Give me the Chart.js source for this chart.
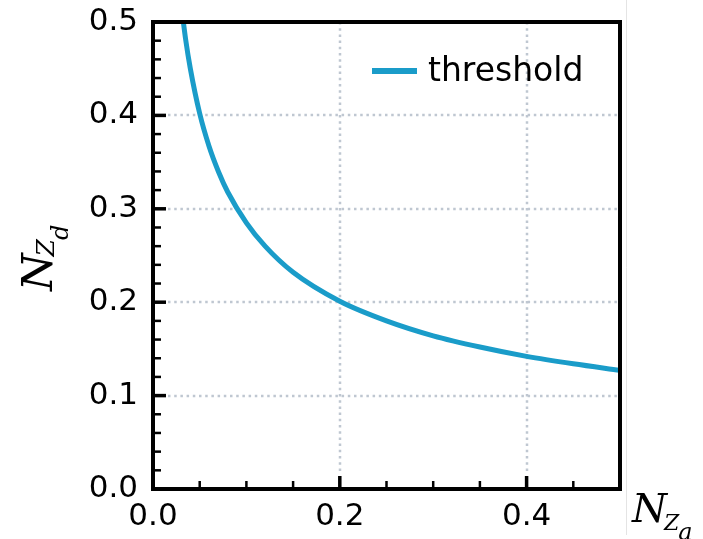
<!DOCTYPE html>
<html>
<head>
<meta charset="utf-8">
<script src="https://cdn.jsdelivr.net/npm/chart.js@4/dist/chart.umd.min.js"></script>
<style>
html, body { margin: 0; padding: 0; background: #fff; }
canvas { display: block; }
</style>
</head>
<body>
<canvas id="thresholdChart" width="703" height="539"></canvas>
<script>
// N_Za vs N_Zd threshold curve

const naValues = [0.030, 0.035, 0.040, 0.050, 0.060, 0.070, 0.080, 0.100, 0.120, 0.150, 0.200, 0.250, 0.300, 0.350, 0.400, 0.450, 0.500];
const ndValues = [0.520, 0.481, 0.450, 0.402, 0.367, 0.340, 0.318, 0.285, 0.260, 0.232, 0.201, 0.180, 0.164, 0.152, 0.142, 0.134, 0.127];
const xMajorTicks = [0, 0.2, 0.4];
const xMinorTicks = [0.05, 0.1, 0.15, 0.25, 0.3, 0.35, 0.45];
const yMajorTicks = [0, 0.1, 0.2, 0.3, 0.4, 0.5];
const yMinorTicks = [0.02, 0.04, 0.06, 0.08, 0.12, 0.14, 0.16, 0.18, 0.22, 0.24, 0.26, 0.28,
                     0.32, 0.34, 0.36, 0.38, 0.42, 0.44, 0.46, 0.48];
const xGridLines = [0.2, 0.4];
const yGridLines = [0.1, 0.2, 0.3, 0.4];
const seriesLabel = 'threshold';

const LINE_COLOR = '#1a9cc9';
const GRID_COLOR = '#bfc7d1';
const TICK_FONT = 'DejaVu Sans';
const MATH_FONT = '"DejaVu Serif", "Liberation Serif", serif';

const points = naValues.map((v, i) => ({ x: v, y: ndValues[i] }));

const axesPlugin = {
    id: 'axesDecor',
    beforeDatasetsDraw(chart) {
        const { ctx, chartArea: a, scales: { x, y } } = chart;
        ctx.save();
        ctx.strokeStyle = GRID_COLOR;
        ctx.lineWidth = 2.5;
        ctx.setLineDash([2.5, 3.7]);
        yGridLines.forEach(v => {
            const py = Math.round(y.getPixelForValue(v));
            ctx.beginPath();
            ctx.moveTo(a.left + 15, py);
            ctx.lineTo(a.right, py);
            ctx.stroke();
        });
        xGridLines.forEach(v => {
            const px = Math.round(x.getPixelForValue(v));
            ctx.beginPath();
            ctx.moveTo(px, a.top);
            ctx.lineTo(px, a.bottom - 15);
            ctx.stroke();
        });
        ctx.restore();
    },
    afterDatasetsDraw(chart) {
        const { ctx, chartArea: a, scales: { x, y } } = chart;
        ctx.save();

        // faint figure edge
        ctx.strokeStyle = '#e4e4e4';
        ctx.lineWidth = 1;
        ctx.beginPath();
        ctx.moveTo(626.5, 0);
        ctx.lineTo(626.5, 535);
        ctx.stroke();

        // frame
        ctx.strokeStyle = '#000';
        ctx.lineWidth = 4;
        ctx.strokeRect(a.left, a.top, a.right - a.left, a.bottom - a.top);

        // inward ticks
        const tick = (x1, y1, x2, y2, w) => {
            ctx.lineWidth = w;
            ctx.beginPath();
            ctx.moveTo(x1, y1);
            ctx.lineTo(x2, y2);
            ctx.stroke();
        };
        yMajorTicks.forEach(v => { const py = y.getPixelForValue(v); tick(a.left, py, a.left + 13, py, 3.5); });
        yMinorTicks.forEach(v => { const py = y.getPixelForValue(v); tick(a.left, py, a.left + 8, py, 2.5); });
        xMajorTicks.forEach(v => { const px = x.getPixelForValue(v); tick(px, a.bottom, px, a.bottom - 13, 3.5); });
        xMinorTicks.forEach(v => { const px = x.getPixelForValue(v); tick(px, a.bottom, px, a.bottom - 8, 2.5); });

        // legend
        ctx.strokeStyle = LINE_COLOR;
        ctx.lineWidth = 6;
        ctx.beginPath();
        ctx.moveTo(372, 71);
        ctx.lineTo(417, 71);
        ctx.stroke();
        ctx.fillStyle = '#000';
        ctx.font = '33px "' + TICK_FONT + '"';
        ctx.textBaseline = 'middle';
        ctx.textAlign = 'left';
        ctx.fillText(chart.data.datasets[0].label, 428, 72);

        // axis titles: N with subscript Z with subscript
        ctx.textBaseline = 'alphabetic';
        const drawTitle = (sub, nSize, zSize, zShift, sSize, sShift) => {
            ctx.font = 'italic ' + nSize + 'px ' + MATH_FONT;
            ctx.fillText('N', 0, 0);
            let w = ctx.measureText('N').width - 3;
            ctx.font = 'italic ' + zSize + 'px ' + MATH_FONT;
            ctx.fillText('Z', w, zShift);
            w += ctx.measureText('Z').width - 1;
            ctx.font = 'italic ' + sSize + 'px ' + MATH_FONT;
            ctx.fillText(sub, w, sShift);
        };
        ctx.save();
        ctx.translate(52, 291);
        ctx.rotate(-Math.PI / 2);
        drawTitle('d', 43, 25, 2, 24, 16);
        ctx.restore();

        ctx.save();
        ctx.translate(632, 522);
        drawTitle('a', 40, 22, 8, 24, 18);
        ctx.restore();

        ctx.restore();
    }
};

const chart = new Chart(document.getElementById('thresholdChart').getContext('2d'), {
    type: 'line',
    data: {
        datasets: [{
            label: seriesLabel,
            data: points,
            borderColor: LINE_COLOR,
            borderWidth: 5,
            pointRadius: 0,
            fill: false,
            cubicInterpolationMode: 'monotone'
        }]
    },
    options: {
        responsive: false,
        animation: false,
        layout: { padding: { top: 22, right: 83, left: 0, bottom: 0 } },
        plugins: { legend: { display: false }, tooltip: { enabled: false } },
        scales: {
            x: {
                type: 'linear',
                min: 0,
                max: 0.5,
                grid: { display: false, drawTicks: false, tickLength: 0 },
                border: { display: false },
                afterFit(scale) {
                    scale.height = 50;
                    scale.paddingLeft = 0;
                    scale.paddingRight = 0;
                },
                ticks: {
                    stepSize: 0.2,
                    includeBounds: false,
                    color: '#000',
                    padding: 9,
                    maxRotation: 0,
                    font: { family: TICK_FONT, size: 31 },
                    callback: v => Number(v).toFixed(1)
                }
            },
            y: {
                type: 'linear',
                min: 0,
                max: 0.5,
                grid: { display: false, drawTicks: false, tickLength: 0 },
                border: { display: false },
                afterFit(scale) {
                    scale.width = 153;
                    scale.paddingTop = 0;
                    scale.paddingBottom = 0;
                },
                ticks: {
                    stepSize: 0.1,
                    color: '#000',
                    padding: 15,
                    font: { family: TICK_FONT, size: 31 },
                    callback: v => Number(v).toFixed(1)
                }
            }
        }
    },
    plugins: [axesPlugin]
});
</script>
</body>
</html>
